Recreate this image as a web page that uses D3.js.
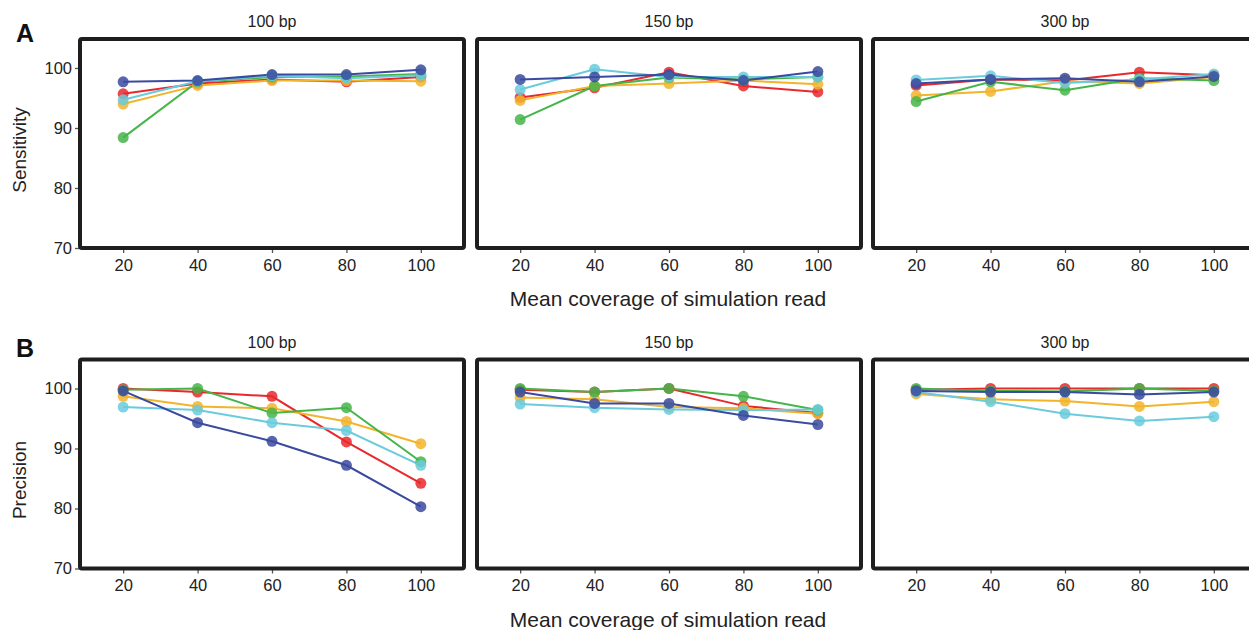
<!DOCTYPE html>
<html>
<head>
<meta charset="utf-8">
<script src="https://cdn.jsdelivr.net/npm/d3@7"></script>
<style>
html,body{margin:0;padding:0;background:#fff;}
svg{display:block;font-family:"Liberation Sans",Arial,Helvetica,sans-serif;}
</style>
</head>
<body>
<svg id="chart" width="1249" height="630"></svg>
<script>
// ---- data ----
const coverage = [20, 40, 60, 80, 100];
const facets = ["100 bp", "150 bp", "300 bp"];
const seriesNames = ["red", "orange", "green", "cyan", "blue"];
const seriesColors = ["#E8282B", "#F2B42A", "#45B54A", "#6ACBDD", "#3A4A9F"];
const yTicks = [70, 80, 90, 100];

// Sensitivity per facet, series values at each coverage
const sens100 = {
  red:    [95.7, 97.4, 98.1, 97.7, 98.5],
  orange: [94.0, 97.1, 97.9, 97.9, 97.8],
  green:  [88.4, 97.7, 98.5, 98.6, 99.0],
  cyan:   [94.7, 97.8, 98.7, 98.3, 98.8],
  blue:   [97.7, 97.9, 98.9, 98.9, 99.7]
};
const sens150 = {
  red:    [95.1, 96.7, 99.3, 97.0, 96.0],
  orange: [94.6, 97.0, 97.4, 97.9, 97.3],
  green:  [91.4, 97.0, 98.4, 98.1, 98.5],
  cyan:   [96.4, 99.8, 98.5, 98.5, 98.5],
  blue:   [98.1, 98.5, 98.9, 97.9, 99.4]
};
const sens300 = {
  red:    [97.1, 98.1, 97.9, 99.3, 98.8],
  orange: [95.4, 96.1, 97.8, 97.4, 98.5],
  green:  [94.4, 97.7, 96.3, 98.3, 97.9],
  cyan:   [98.0, 98.7, 97.5, 98.1, 99.0],
  blue:   [97.4, 98.1, 98.3, 97.7, 98.6]
};
// Precision
const prec100 = {
  red:    [100.0, 99.4, 98.7, 91.1, 84.2],
  orange: [98.7, 97.0, 96.7, 94.5, 90.8],
  green:  [99.8, 100.0, 95.9, 96.8, 87.8],
  cyan:   [96.9, 96.4, 94.3, 93.0, 87.2],
  blue:   [99.6, 94.3, 91.2, 87.2, 80.3]
};
const prec150 = {
  red:    [99.8, 99.4, 100.0, 97.1, 95.9],
  orange: [98.5, 98.2, 96.9, 96.7, 95.8],
  green:  [100.0, 99.4, 100.0, 98.7, 96.4],
  cyan:   [97.4, 96.8, 96.5, 96.4, 96.5],
  blue:   [99.4, 97.5, 97.5, 95.5, 94.0]
};
const prec300 = {
  red:    [99.8, 100.0, 100.0, 100.0, 100.0],
  orange: [99.1, 98.2, 97.9, 97.0, 97.8],
  green:  [100.0, 99.6, 99.5, 100.0, 99.6],
  cyan:   [99.4, 97.8, 95.8, 94.6, 95.3],
  blue:   [99.6, 99.4, 99.4, 99.0, 99.4]
};

const panels = [
  {tag: "A", ylab: "Sensitivity", data: [sens100, sens150, sens300], top: 39, ylabY: 150, tagY: 42},
  {tag: "B", ylab: "Precision",   data: [prec100, prec150, prec300], top: 359.5, ylabY: 480, tagY: 357}
];

// ---- layout ----
const svg = d3.select("#chart");
const facetLeft = [80, 477, 873];
const facetW = 384;
const panelH = 209;
const tickFont = 16.5;

const x = d3.scaleLinear().domain([8.4, 111.6]).range([0, facetW]);

panels.forEach(p => {
  const y = d3.scaleLinear().domain([70, 104.83]).range([p.top + panelH, p.top]);

  svg.append("text").attr("x", 16).attr("y", p.tagY)
    .attr("font-size", 25).attr("font-weight", "bold").attr("fill", "#111")
    .text(p.tag);

  svg.append("text")
    .attr("transform", `translate(26,${p.ylabY}) rotate(-90)`)
    .attr("text-anchor", "middle").attr("font-size", 19).attr("fill", "#222")
    .text(p.ylab);

  svg.append("text").attr("x", 668).attr("y", p.top + panelH + 58)
    .attr("text-anchor", "middle").attr("font-size", 21).attr("fill", "#222")
    .text("Mean coverage of simulation read");

  const yAxis = d3.axisLeft(y).tickValues(yTicks).tickSize(4).tickPadding(3);
  const gy = svg.append("g").attr("transform", `translate(${facetLeft[0] - 1},0)`).call(yAxis);
  gy.select(".domain").remove();
  gy.selectAll("line").attr("stroke", "#555").attr("stroke-width", 1.3);
  gy.selectAll("text").attr("font-size", tickFont).attr("fill", "#222")
    .attr("font-family", "Liberation Sans, Arial, sans-serif");

  facets.forEach((fname, fi) => {
    const g = svg.append("g").attr("transform", `translate(${facetLeft[fi]},0)`);
    const data = p.data[fi];

    g.append("text").attr("x", facetW / 2).attr("y", p.top - 12)
      .attr("text-anchor", "middle").attr("font-size", 16).attr("fill", "#222")
      .text(fname);

    const xAxis = d3.axisBottom(x).tickValues(coverage).tickSize(4).tickPadding(6);
    const gx = g.append("g").attr("transform", `translate(0,${p.top + panelH + 1})`).call(xAxis);
    gx.select(".domain").remove();
    gx.selectAll("line").attr("stroke", "#555").attr("stroke-width", 1.3);
    gx.selectAll("text").attr("font-size", tickFont).attr("fill", "#222")
      .attr("font-family", "Liberation Sans, Arial, sans-serif");

    const line = d3.line().x((d, i) => x(coverage[i])).y(d => y(d));

    seriesNames.forEach((s, si) => {
      g.append("path").datum(data[s])
        .attr("d", line).attr("fill", "none")
        .attr("stroke", seriesColors[si]).attr("stroke-width", 2);
    });
    seriesNames.forEach((s, si) => {
      g.selectAll(null).data(data[s]).enter().append("circle")
        .attr("cx", (d, i) => x(coverage[i])).attr("cy", d => y(d))
        .attr("r", 5.5).attr("fill", seriesColors[si]).attr("fill-opacity", 0.85);
    });

    g.append("rect").attr("x", 0).attr("y", p.top).attr("width", facetW).attr("height", panelH)
      .attr("rx", 2).attr("fill", "none").attr("stroke", "#1e1e1e").attr("stroke-width", 4);
  });
});
</script>
</body>
</html>
